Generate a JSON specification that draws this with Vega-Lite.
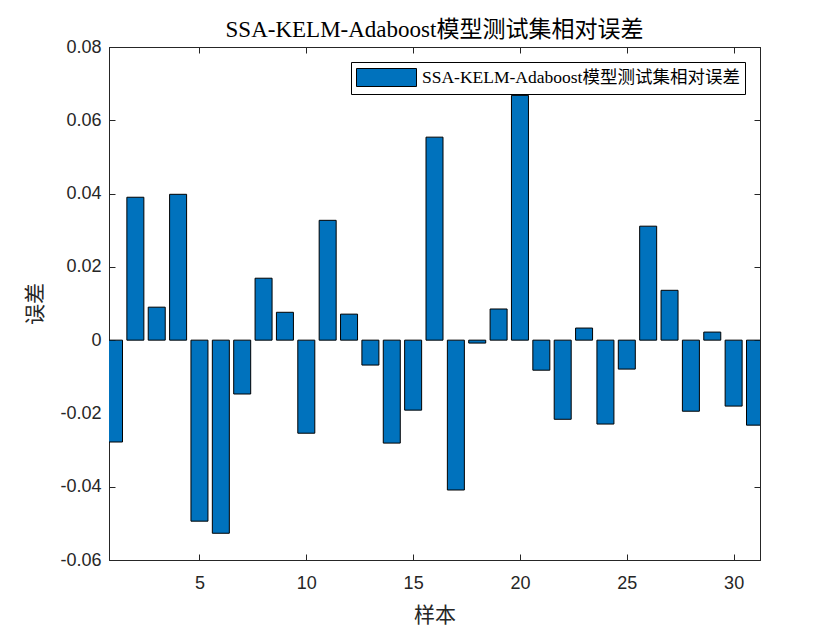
{
  "$schema": "https://vega.github.io/schema/vega-lite/v6.json",
  "autosize": {"type": "none"},
  "width": 651,
  "height": 513,
  "padding": {"left": 109, "top": 47, "right": 80, "bottom": 70},
  "background": "white",
  "config": {"view": {"stroke": "#262626", "strokeWidth": 1}},
  "title": {"text": "SSA-KELM-Adaboost模型测试集相对误差", "font": "Liberation Serif, Noto Sans CJK SC", "fontSize": 23, "fontWeight": "normal", "color": "#000000", "offset": -4},
  "data": {"values": [
    {"n": 1, "v": -0.0278}, {"n": 2, "v": 0.0390}, {"n": 3, "v": 0.0090}, {"n": 4, "v": 0.0398},
    {"n": 5, "v": -0.0494}, {"n": 6, "v": -0.0527}, {"n": 7, "v": -0.0147}, {"n": 8, "v": 0.0169},
    {"n": 9, "v": 0.0076}, {"n": 10, "v": -0.0254}, {"n": 11, "v": 0.0327}, {"n": 12, "v": 0.0071},
    {"n": 13, "v": -0.0068}, {"n": 14, "v": -0.0281}, {"n": 15, "v": -0.0191}, {"n": 16, "v": 0.0554},
    {"n": 17, "v": -0.0409}, {"n": 18, "v": -0.0008}, {"n": 19, "v": 0.0085}, {"n": 20, "v": 0.0668},
    {"n": 21, "v": -0.0082}, {"n": 22, "v": -0.0216}, {"n": 23, "v": 0.0033}, {"n": 24, "v": -0.0229},
    {"n": 25, "v": -0.0079}, {"n": 26, "v": 0.0311}, {"n": 27, "v": 0.0136}, {"n": 28, "v": -0.0194},
    {"n": 29, "v": 0.0022}, {"n": 30, "v": -0.0180}, {"n": 31, "v": -0.0232}
  ]},
  "layer": [
    {
      "mark": {"type": "bar", "size": 17, "stroke": "#000000", "strokeWidth": 1, "clip": true},
      "encoding": {
        "x": {"field": "n", "type": "quantitative", "scale": {"domain": [1, 31], "nice": false, "zero": false},
          "axis": {"orient": "bottom", "values": [5, 10, 15, 20, 25, 30], "grid": false, "title": "样本", "titleFont": "Liberation Serif, Noto Sans CJK SC", "titleFontSize": 21, "titleFontWeight": "normal", "titleColor": "#262626", "titlePadding": 12,
            "labelFont": "Liberation Sans", "labelFontSize": 18, "labelColor": "#262626", "tickSize": -6, "tickColor": "#262626", "domainColor": "#262626", "labelPadding": 20, "labelFlush": false}},
        "y": {"field": "v", "type": "quantitative", "scale": {"domain": [-0.06, 0.08], "nice": false},
          "axis": {"orient": "left", "values": [-0.06, -0.04, -0.02, 0, 0.02, 0.04, 0.06, 0.08], "grid": false, "title": "误差", "titleFont": "Liberation Serif, Noto Sans CJK SC", "titleFontSize": 21, "titleFontWeight": "normal", "titleColor": "#262626", "titlePadding": 14,
            "labelFont": "Liberation Sans", "labelFontSize": 18, "labelColor": "#262626", "tickSize": -6, "tickColor": "#262626", "domainColor": "#262626", "labelPadding": 14,
            "format": ".2~f", "labelExpr": "replace(datum.label, '\u2212', '-')"}},
        "color": {"datum": "SSA-KELM-Adaboost模型测试集相对误差", "type": "nominal", "scale": {"range": ["#0072BD"]},
          "legend": {"title": null, "orient": "top-right", "offset": 15, "symbolType": "M-3,-0.9H3V0.9H-3Z", "symbolSize": 400, "symbolOffset": 20, "symbolStrokeColor": "#000000", "symbolStrokeWidth": 1, "symbolOpacity": 1,
            "labelFont": "Liberation Serif, Noto Sans CJK SC", "labelFontSize": 17.5, "labelColor": "#000000", "labelLimit": 600, "labelOffset": 25,
            "strokeColor": "#000000", "fillColor": "white", "padding": 5}}
      }
    },
    {
      "mark": {"type": "point", "opacity": 0},
      "encoding": {
        "x": {"field": "n", "type": "quantitative", "scale": {"domain": [1, 31], "nice": false, "zero": false},
          "axis": {"orient": "top", "values": [5, 10, 15, 20, 25, 30], "labels": false, "title": null, "grid": false, "tickSize": -6, "tickColor": "#262626", "domainColor": "#262626"}},
        "y": {"field": "v", "type": "quantitative", "scale": {"domain": [-0.06, 0.08], "nice": false},
          "axis": {"orient": "right", "values": [-0.06, -0.04, -0.02, 0, 0.02, 0.04, 0.06, 0.08], "labels": false, "title": null, "grid": false, "tickSize": -6, "tickColor": "#262626", "domainColor": "#262626"}}
      }
    }
  ],
  "resolve": {"axis": {"x": "independent", "y": "independent"}}
}
